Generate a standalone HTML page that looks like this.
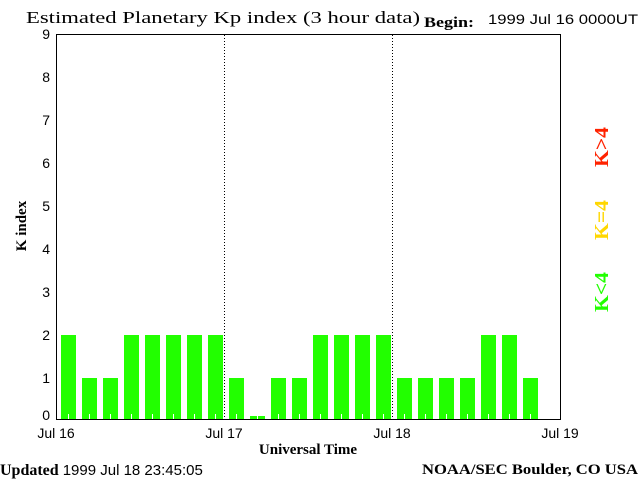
<!DOCTYPE html>
<html><head><meta charset="utf-8"><style>
body{margin:0;background:#fff;width:640px;height:480px;overflow:hidden}
svg{display:block}
.s{font-family:"Liberation Sans",sans-serif;font-size:14px}
.b{font-family:"Liberation Serif",serif;font-size:15px;font-weight:bold}
</style></head><body>
<svg id="c" width="640" height="480">
<text class="b" x="26" y="23" textLength="394" lengthAdjust="spacingAndGlyphs" style="font-size:17px;font-weight:normal">Estimated Planetary Kp index (3 hour data)</text>
<text class="b" x="424" y="27" textLength="50" lengthAdjust="spacingAndGlyphs">Begin:</text>
<text class="s" x="488" y="24" textLength="150" lengthAdjust="spacingAndGlyphs">1999 Jul 16 0000UT</text>
<g id="bars"></g>
<g id="grid"></g>
<rect x="56.5" y="34.5" width="504" height="385" fill="none" stroke="#000"/>
<g id="yt"></g><g id="xt"></g>
<text class="b" transform="translate(26,226) rotate(-90)" text-anchor="middle">K index</text>
<text class="b" x="308" y="454" text-anchor="middle">Universal Time</text>
<text x="0" y="475"><tspan class="b" style="font-size:16px">Updated</tspan><tspan class="s" dx="4" style="font-size:15px">1999 Jul 18 23:45:05</tspan></text>
<text class="b" x="422" y="474" textLength="216" lengthAdjust="spacingAndGlyphs">NOAA/SEC Boulder, CO USA</text>
<text class="b" transform="translate(608,312) rotate(-90)" fill="#22ff00" textLength="40" lengthAdjust="spacingAndGlyphs" style="font-size:20px">K&lt;4</text>
<text class="b" transform="translate(608,240) rotate(-90)" fill="#ffd700" textLength="40" lengthAdjust="spacingAndGlyphs" style="font-size:20px">K=4</text>
<text class="b" transform="translate(608,167) rotate(-90)" fill="#ff2200" textLength="40" lengthAdjust="spacingAndGlyphs" style="font-size:20px">K&gt;4</text>
</svg>
<script>
const kpValues=[2,1,1,2,2,2,2,2,1,0,1,1,2,2,2,2,1,1,1,1,2,2,1];
const yTicks=[0,1,2,3,4,5,6,7,8,9];
const dayLabels=["Jul 16","Jul 17","Jul 18","Jul 19"];
const NS="http://www.w3.org/2000/svg";
const x0=56,slot=21,y=v=>421-43*v,base=419;
function mk(t,a,p){const e=document.createElementNS(NS,t);for(const k in a)e.setAttribute(k,a[k]);p.appendChild(e);return e;}
const bars=document.getElementById('bars');
kpValues.forEach((v,i)=>{
 const top=v===0?416:y(v);
 const c=v<4?'#22ff00':(v===4?'#ffd700':'#ff2200');
 const r=mk('rect',{x:x0+i*slot+5,y:top,width:15,height:base-top,fill:c},bars);
 
 
 const t=mk('line',{x1:x0+i*slot+12.5,x2:x0+i*slot+12.5,y1:base-5,y2:base,stroke:'#fff'},bars);
 
 
});
const grid=document.getElementById('grid');
[1,2].forEach(d=>{
 const l=mk('line',{x1:x0+d*168+0.5,x2:x0+d*168+0.5,y1:35,y2:419,stroke:'#000','stroke-dasharray':'1,2'},grid);
 
 
});
const yt=document.getElementById('yt');
yTicks.forEach(v=>{
 const t=mk('text',{x:50,y:Math.min(y(v)+5,420),'text-anchor':'end',class:'s'},yt);
 t.textContent=v;
 
 
});
const xt=document.getElementById('xt');
dayLabels.forEach((d,i)=>{
 const t=mk('text',{x:x0+i*168,y:438,'text-anchor':'middle',class:'s'},xt);
 t.textContent=d;
 
 
});
</script>
</body></html>
